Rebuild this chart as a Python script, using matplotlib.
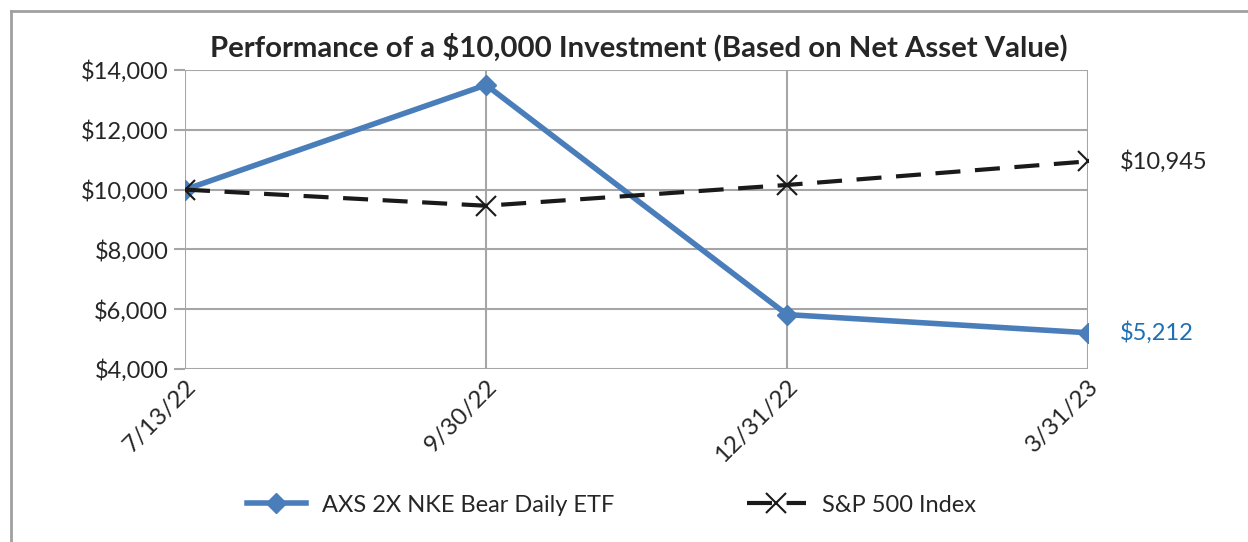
import matplotlib.pyplot as plt
from matplotlib.lines import Line2D
from matplotlib.ticker import FuncFormatter

dates = ['7/13/22', '9/30/22', '12/31/22', '3/31/23']
etf = [10000, 13500, 5820, 5212]
spx = [10000, 9460, 10155, 10945]
etf_label = 'AXS 2X NKE Bear Daily ETF'
spx_label = 'S&P 500 Index'
title = 'Performance of a $10,000 Investment (Based on Net Asset Value)'

blue = '#4a7ebb'
grid_gray = '#a6a6a6'
text_col = '#262626'

plt.rcParams['font.family'] = ['Lato', 'DejaVu Sans']

fig = plt.figure(figsize=(12.48, 5.42), dpi=100)
ax = fig.add_axes([185 / 1248, 1 - 369 / 542, (1088 - 185) / 1248, (369 - 70) / 542])

x = list(range(len(dates)))
ax.plot(x, etf, color=blue, lw=4, marker='D', ms=10, label=etf_label, zorder=3)
ax.plot(x, spx, color='#1a1a1a', lw=3, ls=(0, (6, 3.5)), marker='x', ms=14,
        mew=1.5, label=spx_label, zorder=4)

ax.set_xlim(0, len(dates) - 1)
ax.set_ylim(4000, 14000)
ax.set_yticks(range(4000, 14001, 2000))
ax.yaxis.set_major_formatter(FuncFormatter(lambda v, p: f'${v:,.0f}'))
ax.set_xticks(x)
ax.set_xticklabels(dates, rotation=45, ha='right', rotation_mode='anchor')
ax.grid(axis='y', color=grid_gray, lw=1.5)
ax.grid(axis='x', color=grid_gray, lw=1.5)
for s in ax.spines.values():
    s.set_visible(False)
ax.tick_params(axis='y', length=8, color=grid_gray, width=1.5, labelsize=17,
               labelcolor=text_col, pad=4)
ax.tick_params(axis='x', length=0, labelsize=17.5, labelcolor=text_col, pad=5)

ax.annotate(f'${spx[-1]:,}', (x[-1], spx[-1]), xytext=(23, 0), textcoords='offset points',
            va='center', ha='left', fontsize=17, color=text_col, annotation_clip=False)
ax.annotate(f'${etf[-1]:,}', (x[-1], etf[-1]), xytext=(23, 0), textcoords='offset points',
            va='center', ha='left', fontsize=17, color='#1f6fb4', annotation_clip=False)

fig.text(0.512, 1 - 47 / 542, title, ha='center', va='center', fontsize=21.2,
         fontweight='bold', color=text_col)

leg = fig.legend(loc='center', bbox_to_anchor=(0.49, 1 - 505 / 542), ncol=2, frameon=False,
                 fontsize=17, handlelength=2.5, handletextpad=0.7, columnspacing=5.6,
                 labelcolor=text_col)

# outer chart border (left and top only)
fig.add_artist(Line2D([11 / 1248, 11 / 1248], [0, 1 - 11 / 542], color='#a0a0a0', lw=2,
                      transform=fig.transFigure))
fig.add_artist(Line2D([11 / 1248, 1], [1 - 11 / 542, 1 - 11 / 542], color='#a0a0a0', lw=2,
                      transform=fig.transFigure))

fig.savefig('out.png', dpi=100)
